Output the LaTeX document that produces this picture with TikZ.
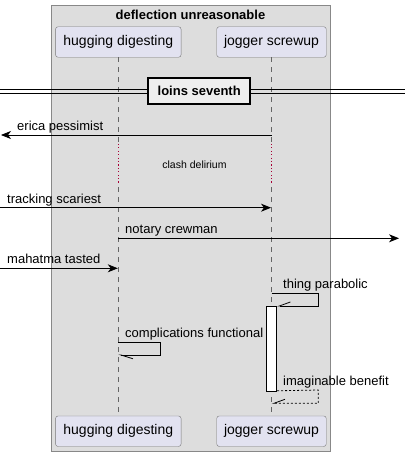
\documentclass[tikz,border=0pt]{standalone}
\usepackage{fontspec}
\setmainfont{Liberation Sans}
\usetikzlibrary{arrows.meta, positioning, calc}
\definecolor{boxgray}{RGB}{221,221,221}
\definecolor{boxedge}{RGB}{136,136,136}
\definecolor{partfill}{RGB}{226,226,240}
\definecolor{partedge}{RGB}{120,120,120}
\definecolor{lifegray}{RGB}{100,100,100}
\definecolor{delayred}{RGB}{168,0,54}
\definecolor{divfill}{RGB}{238,238,238}

\tikzset{
    part/.style={draw=partedge, fill=partfill, rounded corners=2.5pt, minimum height=30.5pt,
        inner xsep=6pt, font=\fontsize{14}{16}\selectfont},
    lifeline/.style={lifegray, dash pattern=on 5pt off 5pt, line width=0.7pt},
    msg/.style={black, line width=0.8pt, -{Stealth[length=10pt, width=8pt, inset=3pt]}},
    selfmsg/.style={black, line width=0.8pt, -{Straight Barb[harpoon, swap, length=11pt, width=8pt]}},
    selfmsgdown/.style={black, line width=0.8pt, -{Straight Barb[harpoon, length=12pt, width=7.5pt]}},
    msglabel/.style={font=\fontsize{13}{15}\selectfont, inner sep=1pt, anchor=base west},
    delaydots/.style={delayred, line width=1.1pt, dash pattern=on 1.1pt off 2.3pt}
}

\begin{document}
\begin{tikzpicture}[x=1pt, y=-1pt]
    \useasboundingbox (0,0) rectangle (405,457);

    % Group box
    \draw[boxedge, fill=boxgray, line width=1pt] (51,5.5) rectangle (330,451.5);
    \node[font=\fontsize{13}{15}\selectfont\bfseries] (title) at (190.5,14.5) {deflection unreasonable};

    % Participants
    \node[part, minimum width=125.5pt] (hdTop) at (118.3,42) {hugging digesting};
    \node[part, minimum width=109.5pt] (jsTop) at (271.5,42) {jogger screwup};
    \node[part, minimum width=125.5pt] (hdBot) at (118.3,431.2) {hugging digesting};
    \node[part, minimum width=109.5pt] (jsBot) at (271.5,431.2) {jogger screwup};

    % Lifelines
    \draw[lifeline] (hdTop.south) -- (hdBot.north);
    \draw[lifeline] (jsTop.south) -- (jsBot.north);

    % Delay
    \fill[boxgray] (113,143) rectangle (124,184);
    \fill[boxgray] (267,143) rectangle (277,184);
    \draw[delaydots] (118.3,144) -- (118.3,184);
    \draw[delaydots] (271.5,144) -- (271.5,184);
    \node[font=\fontsize{10.5}{12}\selectfont] (delay) at (194.5,165) {clash delirium};

    % Divider
    \draw[black, line width=0.8pt] (0,89.5) -- (405,89.5);
    \draw[black, line width=0.8pt] (0,93.5) -- (405,93.5);
    \node[draw=black, line width=1.6pt, fill=divfill, minimum width=102pt, minimum height=26pt,
        font=\fontsize{13}{15}\selectfont\bfseries] (div) at (199.2,91.2) {loins seventh};

    % Message end points
    \coordinate (erS) at (271.5,135);
    \coordinate (erE) at (1,135);
    \coordinate (tsS) at (0,207.7);
    \coordinate (tsE) at (271,207.7);
    \coordinate (ncS) at (118.3,238.3);
    \coordinate (ncE) at (399,238.3);
    \coordinate (mtS) at (0,268.3);
    \coordinate (mtE) at (117.8,268.3);

    % Messages
    \draw[msg] (erS) -- (erE);
    \node[msglabel] (erLab) at (16,130.5) {erica pessimist};
    \draw[msg] (tsS) -- (tsE);
    \node[msglabel] (tsLab) at (6,203) {tracking scariest};
    \draw[msg] (ncS) -- (ncE);
    \node[msglabel] (ncLab) at (124,233.5) {notary crewman};
    \draw[msg] (mtS) -- (mtE);
    \node[msglabel] (mtLab) at (6,263.5) {mahatma tasted};

    % Activation
    \node[draw=black, fill=white, line width=0.8pt, minimum width=10pt, minimum height=85pt,
        inner sep=0pt, anchor=north] (act) at (271.7,306) {};

    % Self messages
    \draw[selfmsg] (271.5,293.3) -- (318.3,293.3) -- (318.3,306) -- (act.north east);
    \node[msglabel] (tpLab) at (282,288.5) {thing parabolic};
    \draw[selfmsgdown] (118.3,342.3) -- (160.3,342.3) -- (160.3,355) -- (118.3,355);
    \node[msglabel] (cfLab) at (124,337.5) {complications functional};
    \draw[selfmsg, dash pattern=on 2pt off 2pt] (act.south east) ++(0,-1) -- (318.3,390) -- (318.3,403.3) -- (271.7,403.3);
    \node[msglabel] (ibLab) at (282,385.5) {imaginable benefit};
\end{tikzpicture}
\end{document}
